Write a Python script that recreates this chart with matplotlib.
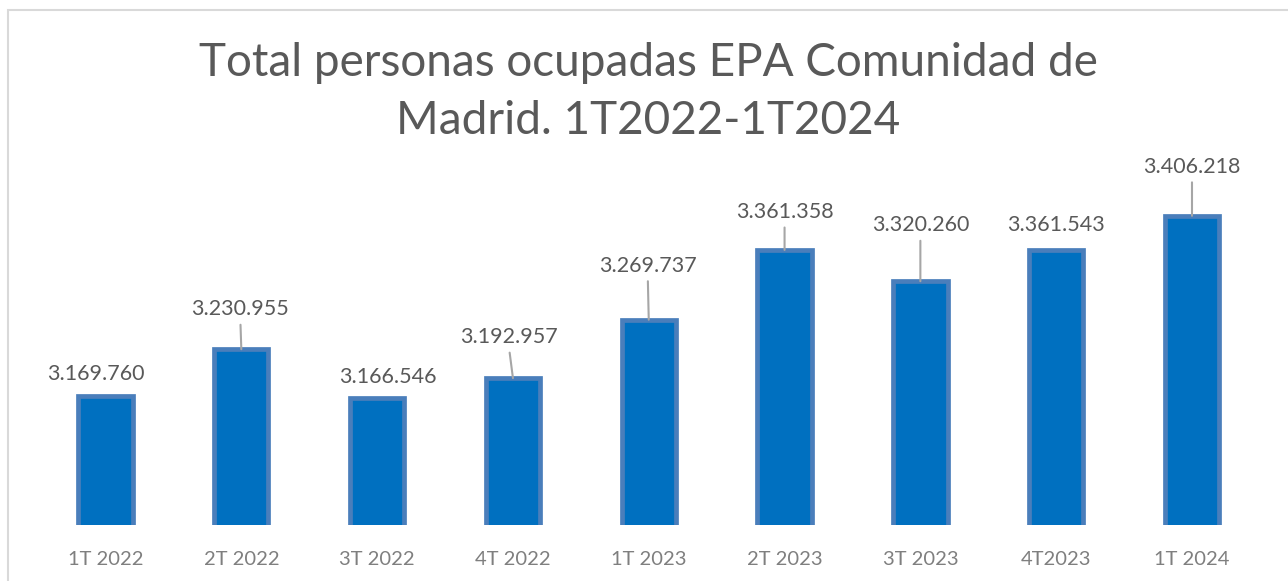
import matplotlib
matplotlib.use("Agg")
import matplotlib.pyplot as plt
from matplotlib.patches import Rectangle

plt.rcParams['font.family'] = ['Lato', 'DejaVu Sans']

# data
quarters = ['1T 2022', '2T 2022', '3T 2022', '4T 2022', '1T 2023',
            '2T 2023', '3T 2023', '4T2023', '1T 2024']
ocupados = [3169760, 3230955, 3166546, 3192957, 3269737,
            3361358, 3320260, 3361543, 3406218]

# label offsets in pixels from the top of each bar (dx, dy)
label_offsets = [(-10, 22), (-1, 40), (11, 21), (-4, 41), (-1, 54),
                 (0, 38), (0, 56), (0, 25), (0, 49)]

fig = plt.figure(figsize=(12.88, 5.81), dpi=100)
W, H = 1288, 581

# light gray chart frame
fig.patches.append(Rectangle((8 / W, -0.1), 1.2, (H - 10) / H + 0.1,
                             transform=fig.transFigure, fill=False,
                             edgecolor='#d9d9d9', linewidth=1.5))

ax = fig.add_axes([37.6 / W, (H - 525) / H, 1222.3 / W, 380.6 / H])
x = range(len(quarters))
ax.bar(x, ocupados, width=0.4, color='#0070c0', edgecolor='#4a7ebb',
       linewidth=3.4, bottom=0)
ax.set_ylim(3000000, 3500000)
ax.set_xlim(-0.5, len(quarters) - 0.5)

for i, v in enumerate(ocupados):
    dx, dy = label_offsets[i]
    txt = f"{v:,}".replace(',', '.')
    props = None
    if dy > 30:
        props = dict(arrowstyle='-', color='#a6a6a6', lw=1.5,
                     shrinkA=2, shrinkB=0, relpos=(0.5, 0))
    ax.annotate(txt, xy=(i, v), xytext=(dx, dy), textcoords='offset pixels',
                ha='center', va='center', fontsize=15.5, color='#595959',
                arrowprops=props)

ax.set_xticks(list(x))
ax.set_xticklabels(quarters, fontsize=14.5, color='#7f7f7f')
ax.tick_params(axis='x', length=0, pad=19)
ax.set_yticks([])
for s in ax.spines.values():
    s.set_visible(False)

fig.text(648 / W, 1 - 92 / H, 'Total personas ocupadas EPA Comunidad de\nMadrid. 1T2022-1T2024',
         ha='center', va='center', fontsize=33, color='#595959', linespacing=1.5)

fig.savefig('out.png', dpi=100)
